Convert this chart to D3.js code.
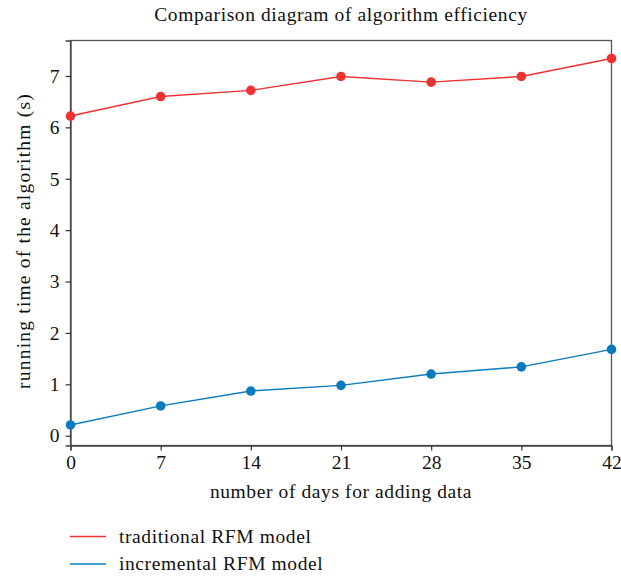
<!DOCTYPE html>
<html><head><meta charset="utf-8">
<script src="https://cdn.jsdelivr.net/npm/d3@7"></script>
<style>body{margin:0;background:#fff;} text{font-family:"Liberation Serif","DejaVu Serif",serif;fill:#111;}</style>
</head><body>
<svg id="c" width="621" height="578"></svg>
<script>
const days = [0, 7, 14, 21, 28, 35, 42];
const traditional = [6.22, 6.60, 6.72, 6.99, 6.88, 6.99, 7.34];
const incremental = [0.21, 0.58, 0.87, 0.98, 1.20, 1.34, 1.68];
const yTicks = [0, 1, 2, 3, 4, 5, 6, 7];
const seriesNames = ["traditional RFM model", "incremental RFM model"];
const colors = ["#ee3131", "#0a7cbd"];

const svg = d3.select("#c");
const L = 70.5, R = 611.5, T = 40.5, B = 445.5;
const x = d3.scaleLinear().domain([0, 42]).range([L, R]);
const y = d3.scaleLinear().domain([-0.19, 7.69]).range([B, T]);

svg.append("rect").attr("x", L).attr("y", T).attr("width", R - L).attr("height", B - T)
  .attr("fill", "none").attr("stroke", "#555").attr("stroke-width", 1.3);

const fs = 19.5, ls = 0.6;
const gx = svg.append("g").attr("transform", `translate(0,${B})`)
  .call(d3.axisBottom(x).tickValues(days).tickSize(5).tickPadding(5).tickFormat(d3.format("d")));
const gy = svg.append("g").attr("transform", `translate(${L},0)`)
  .call(d3.axisLeft(y).tickValues(yTicks).tickSize(5).tickPadding(6).tickFormat(d3.format("d")));
[gx, gy].forEach(g => {
  g.select(".domain").attr("stroke", "#444").attr("stroke-width", 1.3);
  g.selectAll(".tick line").attr("stroke", "#333").attr("stroke-width", 1.2);
  g.selectAll(".tick text").attr("font-size", fs).attr("font-family", "Liberation Serif").attr("fill", "#111");
});

const line = d3.line().x((d, i) => x(days[i])).y(d => y(d));
[traditional, incremental].forEach((s, k) => {
  svg.append("path").datum(s).attr("d", line).attr("fill", "none")
    .attr("stroke", colors[k]).attr("stroke-width", 1.4);
  svg.selectAll(null).data(s).enter().append("circle")
    .attr("cx", (d, i) => x(days[i])).attr("cy", d => y(d)).attr("r", 4.8)
    .attr("fill", colors[k]);
});

svg.append("text").attr("x", 341).attr("y", 21).attr("text-anchor", "middle")
  .attr("font-size", fs).attr("letter-spacing", ls).text("Comparison diagram of algorithm efficiency");
svg.append("text").attr("x", 341).attr("y", 498).attr("text-anchor", "middle")
  .attr("font-size", fs).attr("letter-spacing", ls).text("number of days for adding data");
svg.append("text").attr("transform", `translate(30,241) rotate(-90)`)
  .attr("text-anchor", "middle").attr("font-size", fs).attr("letter-spacing", 1.2).text("running time of the algorithm (s)");

seriesNames.forEach((n, k) => {
  const ly = 536.5 + k * 27.5;
  svg.append("line").attr("x1", 70).attr("x2", 106).attr("y1", ly).attr("y2", ly)
    .attr("stroke", colors[k]).attr("stroke-width", 1.4);
  svg.append("text").attr("x", 119).attr("y", ly + 6).attr("font-size", fs).attr("letter-spacing", ls).text(n);
});
</script>
</body></html>
